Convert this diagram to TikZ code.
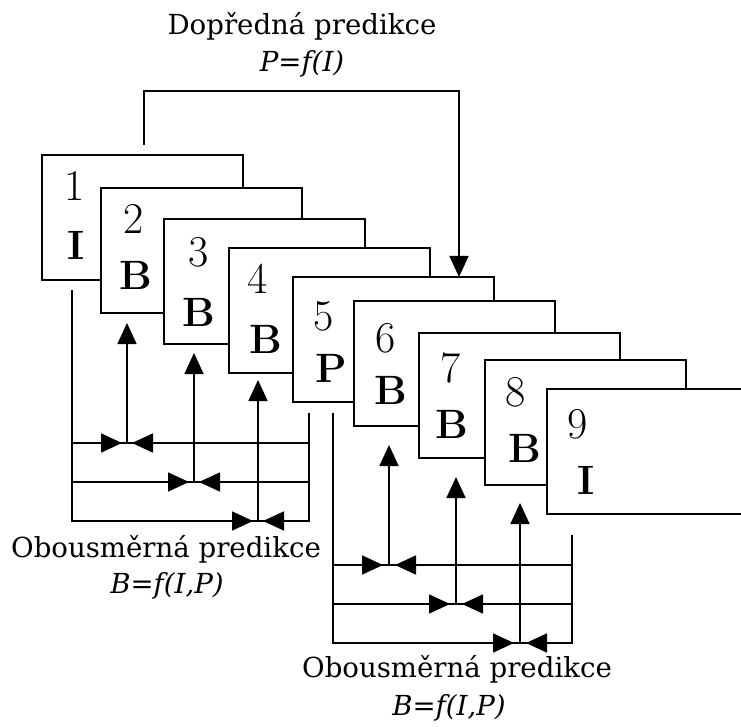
\documentclass[tikz,border=0pt]{standalone}
\usepackage{fontspec}
\newfontfamily\capfont{DejaVu Serif}
\usetikzlibrary{arrows.meta}
\begin{document}
\begin{tikzpicture}[x=1pt,y=-1pt,
  framebox/.style={draw=black, line width=1.6pt, fill=white, minimum width=201pt,
    minimum height=125pt, anchor=north west, inner sep=0pt, outer sep=0pt},
  numtxt/.style={font=\fontsize{44}{44}\selectfont, inner sep=0pt},
  typtxt/.style={font=\fontsize{41}{41}\selectfont\bfseries, inner sep=0pt},
  captxt/.style={font=\capfont\fontsize{27.6}{30}\selectfont, anchor=base, inner sep=0pt},
  frmtxt/.style={font=\capfont\itshape\fontsize{27.6}{30}\selectfont, anchor=base, inner sep=0pt},
  lnstyle/.style={line width=1.6pt},
  arrstyle/.style={line width=1.6pt, -{Triangle[length=21pt,width=19pt]}},
]
\useasboundingbox (0,0) rectangle (741,727);
\clip (0,0) rectangle (741,727);
\fill[white] (0,0) rectangle (741,727);

% captions
\node[captxt] (t1) at (302,35) {Dopředná predikce};
\node[frmtxt] (t1f) at (302,72) {P=f(I)};
\node[captxt] (t2) at (166,557) {Obousměrná predikce};
\node[frmtxt] (t2f) at (167,593) {B=f(I,P)};
\node[captxt] (t3) at (457,677) {Obousměrná predikce};
\node[frmtxt] (t3f) at (449,715) {B=f(I,P)};

% frames
\node[framebox] (f1) at (42,155) {};
\node[framebox] (f2) at (101,188) {};
\node[framebox] (f3) at (164,219) {};
\node[framebox] (f4) at (229,248) {};
\node[framebox] (f5) at (293,277) {};
\node[framebox] (f6) at (354,301) {};
\node[framebox] (f7) at (419,333) {};
\node[framebox] (f8) at (485,360) {};
\node[framebox] (f9) at (547,389) {};

% frame labels
\node[numtxt] (n1) at (74.5,186) {1};
\node[typtxt] (l1) at (76,245) {I};
\node[numtxt] (n2) at (134,219) {2};
\node[typtxt] (l2) at (136,275.5) {B};
\node[numtxt] (n3) at (199,252) {3};
\node[typtxt] (l3) at (199,312) {B};
\node[numtxt] (n4) at (258,279) {4};
\node[typtxt] (l4) at (266,339) {B};
\node[numtxt] (n5) at (324,316) {5};
\node[typtxt] (l5) at (331,368) {P};
\node[numtxt] (n6) at (386,338) {6};
\node[typtxt] (l6) at (391,390) {B};
\node[numtxt] (n7) at (451,368) {7};
\node[typtxt] (l7) at (452,424) {B};
\node[numtxt] (n8) at (516,392) {8};
\node[typtxt] (l8) at (525,448) {B};
\node[numtxt] (n9) at (578,424) {9};
\node[typtxt] (l9) at (586,480) {I};

% forward prediction I -> P
\coordinate (fs) at (144,145);
\coordinate (fe) at (459,277);
\draw[arrstyle] (fs) -- (144,91) -| (fe);

% bidirectional group 1
\coordinate (aL) at (72,290);
\coordinate (aR) at (309,413);
\coordinate (a1) at (72,443);
\coordinate (a2) at (72,482);
\coordinate (a3) at (72,521);
\draw[lnstyle] (aL) -- (a3) -- (309,521) -- (aR);
\draw[lnstyle] (a1) -- (309,443);
\draw[lnstyle] (a2) -- (309,482);
\coordinate (b2) at (127,323);
\coordinate (b3) at (194,353);
\coordinate (b4) at (258,380);
\draw[arrstyle] (127,443) -- (b2);
\draw[arrstyle] (194,482) -- (b3);
\draw[arrstyle] (258,521) -- (b4);
\draw[arrstyle] (100,443) -- (122,443);
\draw[arrstyle] (154,443) -- (132,443);
\draw[arrstyle] (167,482) -- (189,482);
\draw[arrstyle] (221,482) -- (199,482);
\draw[arrstyle] (231,521) -- (253,521);
\draw[arrstyle] (285,521) -- (263,521);

% bidirectional group 2
\coordinate (cL) at (333,413);
\coordinate (cR) at (572,535);
\coordinate (c1) at (333,565);
\coordinate (c2) at (333,604);
\coordinate (c3) at (333,643);
\draw[lnstyle] (cL) -- (c3) -- (572,643) -- (cR);
\draw[lnstyle] (c1) -- (572,565);
\draw[lnstyle] (c2) -- (572,604);
\coordinate (d6) at (389,445);
\coordinate (d7) at (456,477);
\coordinate (d8) at (520,503);
\draw[arrstyle] (389,565) -- (d6);
\draw[arrstyle] (456,604) -- (d7);
\draw[arrstyle] (520,643) -- (d8);
\draw[arrstyle] (361,565) -- (383,565);
\draw[arrstyle] (417,565) -- (395,565);
\draw[arrstyle] (428,604) -- (450,604);
\draw[arrstyle] (484,604) -- (462,604);
\draw[arrstyle] (492,643) -- (514,643);
\draw[arrstyle] (548,643) -- (526,643);
\end{tikzpicture}
\end{document}
